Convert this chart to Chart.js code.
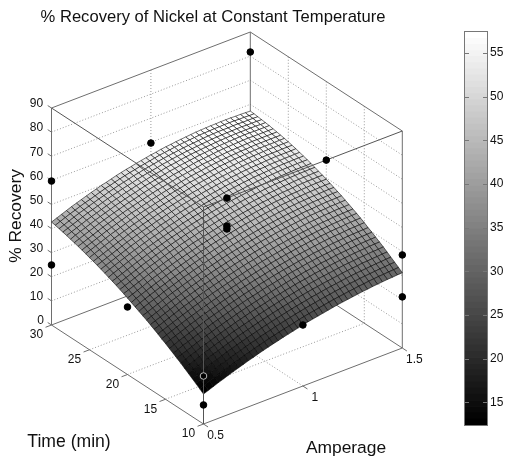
<!DOCTYPE html>
<html>
<head>
<meta charset="utf-8">
<script src="https://cdn.jsdelivr.net/npm/chart.js@4"></script>
<style>
  html, body { margin: 0; background: #fff; }
  #wrap { position: relative; width: 507px; height: 463px; overflow: hidden; }
  #surfaceChart { position: absolute; left: 0; top: 0; }
  #colorBar { position: absolute; left: 440px; top: 0; }
</style>
</head>
<body>
<div id="wrap">
  <canvas id="surfaceChart" width="507" height="463"></canvas>
  <canvas id="colorBar" width="67" height="463"></canvas>
</div>
<script>
const amperageTicks = [0.5, 1, 1.5];
const timeTicks = [10, 15, 20, 25, 30];
const recoveryTicks = [0, 10, 20, 30, 40, 50, 60, 70, 80, 90];
const colorTicks = [15, 20, 25, 30, 35, 40, 45, 50, 55];

// surface rows run from 10 to 30 min, columns from 0.5 to 1.5 A
const surfaceRows = [
  [12.4,13.2,14.0,14.8,15.5,16.3,17.0,17.7,18.4,19.1,19.7,20.4,21.0,21.6,22.2,22.7,23.3,23.8,24.3,24.8,25.3,25.8,26.2,26.6,27.0,27.4,27.8,28.2,28.5,28.8,29.1,29.4,29.7,29.9,30.2,30.4,30.6,30.8,30.9,31.1,31.2],
  [13.6,14.4,15.2,16.0,16.7,17.5,18.2,18.9,19.6,20.3,20.9,21.6,22.2,22.8,23.4,23.9,24.5,25.0,25.5,26.0,26.5,27.0,27.4,27.8,28.2,28.6,29.0,29.4,29.7,30.0,30.3,30.6,30.9,31.1,31.4,31.6,31.8,31.9,32.1,32.2,32.4],
  [14.7,15.5,16.3,17.1,17.9,18.6,19.3,20.0,20.7,21.4,22.1,22.7,23.3,24.0,24.5,25.1,25.7,26.2,26.7,27.2,27.7,28.1,28.6,29.0,29.4,29.8,30.2,30.5,30.9,31.2,31.5,31.8,32.0,32.3,32.5,32.7,32.9,33.1,33.2,33.4,33.5],
  [15.8,16.6,17.5,18.2,19.0,19.7,20.5,21.2,21.9,22.6,23.2,23.9,24.5,25.1,25.7,26.2,26.8,27.3,27.8,28.3,28.8,29.3,29.7,30.1,30.6,30.9,31.3,31.7,32.0,32.3,32.6,32.9,33.2,33.4,33.6,33.8,34.0,34.2,34.3,34.5,34.6],
  [16.9,17.7,18.5,19.3,20.1,20.9,21.6,22.3,23.0,23.7,24.4,25.0,25.6,26.2,26.8,27.4,27.9,28.5,29.0,29.5,30.0,30.4,30.9,31.3,31.7,32.1,32.4,32.8,33.1,33.4,33.7,34.0,34.3,34.5,34.7,35.0,35.1,35.3,35.4,35.6,35.7],
  [18.0,18.8,19.6,20.4,21.2,22.0,22.7,23.4,24.1,24.8,25.5,26.1,26.7,27.3,27.9,28.5,29.0,29.6,30.1,30.6,31.1,31.5,31.9,32.4,32.8,33.2,33.5,33.9,34.2,34.5,34.8,35.1,35.4,35.6,35.8,36.0,36.2,36.4,36.5,36.6,36.8],
  [19.1,19.9,20.7,21.5,22.3,23.0,23.7,24.5,25.2,25.9,26.5,27.2,27.8,28.4,29.0,29.6,30.1,30.6,31.2,31.7,32.1,32.6,33.0,33.5,33.9,34.2,34.6,35.0,35.3,35.6,35.9,36.2,36.4,36.7,36.9,37.1,37.3,37.4,37.6,37.7,37.8],
  [20.1,20.9,21.7,22.5,23.3,24.1,24.8,25.5,26.3,26.9,27.6,28.2,28.9,29.5,30.1,30.6,31.2,31.7,32.2,32.7,33.2,33.6,34.1,34.5,34.9,35.3,35.7,36.0,36.3,36.7,36.9,37.2,37.5,37.7,37.9,38.1,38.3,38.5,38.6,38.7,38.8],
  [21.1,21.9,22.8,23.6,24.3,25.1,25.8,26.6,27.3,28.0,28.6,29.3,29.9,30.5,31.1,31.7,32.2,32.7,33.3,33.8,34.2,34.7,35.1,35.6,36.0,36.3,36.7,37.1,37.4,37.7,38.0,38.2,38.5,38.7,38.9,39.2,39.4,39.5,39.6,39.7,39.8],
  [22.1,22.9,23.8,24.5,25.3,26.1,26.8,27.6,28.3,29.0,29.6,30.3,30.9,31.5,32.1,32.7,33.2,33.7,34.3,34.7,35.2,35.7,36.1,36.6,36.9,37.3,37.7,38.0,38.3,38.7,38.9,39.2,39.5,39.7,39.9,40.1,40.3,40.4,40.5,40.6,40.7],
  [23.1,23.9,24.7,25.5,26.3,27.1,27.8,28.6,29.3,30.0,30.6,31.3,31.9,32.5,33.1,33.7,34.2,34.7,35.3,35.7,36.2,36.7,37.1,37.5,37.9,38.3,38.7,39.0,39.3,39.6,39.9,40.2,40.5,40.7,40.9,41.0,41.2,41.4,41.5,41.6,41.7],
  [24.0,24.9,25.7,26.5,27.3,28.1,28.8,29.5,30.2,30.9,31.6,32.2,32.9,33.5,34.1,34.6,35.2,35.7,36.2,36.7,37.2,37.6,38.1,38.5,38.9,39.3,39.6,40.0,40.3,40.6,40.9,41.1,41.4,41.6,41.8,42.0,42.1,42.3,42.4,42.5,42.6],
  [25.0,25.8,26.6,27.4,28.2,29.0,29.7,30.5,31.2,31.9,32.5,33.2,33.8,34.4,35.0,35.6,36.1,36.6,37.2,37.6,38.1,38.6,39.0,39.4,39.8,40.2,40.5,40.9,41.2,41.5,41.8,42.0,42.3,42.5,42.7,42.9,43.0,43.2,43.3,43.4,43.5],
  [25.9,26.7,27.5,28.3,29.1,29.9,30.7,31.4,32.1,32.8,33.5,34.1,34.7,35.3,35.9,36.5,37.0,37.6,38.1,38.6,39.0,39.5,39.9,40.3,40.7,41.1,41.4,41.8,42.1,42.4,42.7,42.9,43.2,43.4,43.6,43.7,43.9,44.0,44.1,44.2,44.3],
  [26.8,27.6,28.4,29.2,30.0,30.8,31.6,32.3,33.0,33.7,34.4,35.0,35.6,36.2,36.8,37.4,37.9,38.5,39.0,39.4,39.9,40.4,40.8,41.2,41.6,42.0,42.3,42.6,42.9,43.2,43.5,43.8,44.0,44.2,44.4,44.6,44.7,44.9,45.0,45.0,45.1],
  [27.7,28.5,29.3,30.1,30.9,31.7,32.4,33.1,33.9,34.6,35.2,35.9,36.5,37.1,37.7,38.2,38.8,39.3,39.8,40.3,40.8,41.2,41.7,42.1,42.5,42.8,43.2,43.5,43.8,44.1,44.4,44.6,44.9,45.1,45.2,45.4,45.5,45.7,45.7,45.8,45.9],
  [28.5,29.3,30.1,30.9,31.7,32.5,33.3,34.0,34.7,35.4,36.1,36.7,37.3,37.9,38.5,39.1,39.7,40.2,40.7,41.2,41.6,42.1,42.5,42.9,43.3,43.7,44.0,44.3,44.6,44.9,45.2,45.4,45.7,45.9,46.0,46.2,46.3,46.5,46.5,46.6,46.7],
  [29.3,30.2,31.0,31.8,32.5,33.4,34.1,34.8,35.6,36.3,36.9,37.6,38.2,38.8,39.4,39.9,40.5,41.0,41.5,42.0,42.4,42.9,43.3,43.7,44.1,44.5,44.8,45.1,45.4,45.7,46.0,46.2,46.4,46.6,46.8,47.0,47.1,47.2,47.3,47.4,47.4],
  [30.1,31.0,31.8,32.6,33.4,34.2,34.9,35.7,36.4,37.1,37.7,38.4,39.0,39.6,40.2,40.7,41.3,41.8,42.3,42.8,43.2,43.7,44.1,44.5,44.9,45.2,45.6,45.9,46.2,46.5,46.7,47.0,47.2,47.4,47.5,47.7,47.8,47.9,48.0,48.1,48.1],
  [30.9,31.8,32.6,33.4,34.2,35.0,35.7,36.5,37.2,37.9,38.5,39.2,39.8,40.4,41.0,41.5,42.1,42.6,43.1,43.5,44.0,44.5,44.9,45.3,45.6,46.0,46.3,46.6,46.9,47.2,47.5,47.7,47.9,48.1,48.2,48.4,48.5,48.6,48.7,48.8,48.8],
  [31.7,32.5,33.3,34.1,35.0,35.8,36.5,37.2,37.9,38.6,39.3,39.9,40.5,41.1,41.7,42.3,42.8,43.3,43.8,44.3,44.8,45.2,45.6,46.0,46.4,46.7,47.1,47.4,47.7,48.0,48.2,48.4,48.6,48.8,48.9,49.1,49.2,49.3,49.4,49.4,49.5],
  [32.5,33.3,34.1,34.9,35.7,36.5,37.2,38.0,38.7,39.4,40.0,40.7,41.3,41.9,42.5,43.0,43.5,44.0,44.5,45.0,45.5,45.9,46.3,46.7,47.1,47.4,47.8,48.1,48.4,48.6,48.9,49.1,49.3,49.4,49.6,49.8,49.9,50.0,50.0,50.1,50.1],
  [33.2,34.0,34.8,35.6,36.4,37.2,38.0,38.7,39.4,40.1,40.8,41.4,42.0,42.6,43.2,43.7,44.3,44.8,45.2,45.7,46.2,46.6,47.0,47.4,47.7,48.1,48.4,48.8,49.0,49.3,49.5,49.7,49.9,50.1,50.2,50.4,50.5,50.6,50.6,50.7,50.7],
  [33.9,34.7,35.5,36.3,37.1,37.9,38.7,39.4,40.1,40.8,41.5,42.1,42.7,43.3,43.9,44.4,45.0,45.4,45.9,46.4,46.9,47.3,47.7,48.0,48.4,48.8,49.1,49.4,49.7,49.9,50.2,50.4,50.6,50.7,50.9,51.0,51.1,51.2,51.2,51.3,51.3],
  [34.6,35.4,36.2,37.0,37.8,38.6,39.3,40.1,40.8,41.5,42.1,42.8,43.4,44.0,44.5,45.1,45.6,46.1,46.6,47.1,47.5,47.9,48.3,48.7,49.1,49.4,49.7,50.0,50.3,50.6,50.8,51.0,51.2,51.3,51.5,51.6,51.7,51.8,51.8,51.8,51.9],
  [35.2,36.1,36.9,37.7,38.5,39.3,40.0,40.8,41.5,42.1,42.8,43.4,44.0,44.6,45.2,45.8,46.3,46.8,47.2,47.7,48.2,48.6,49.0,49.3,49.7,50.0,50.3,50.6,50.9,51.1,51.4,51.6,51.8,51.9,52.1,52.2,52.3,52.3,52.4,52.4,52.4],
  [35.9,36.7,37.5,38.3,39.1,39.9,40.7,41.4,42.1,42.8,43.4,44.0,44.7,45.3,45.8,46.4,46.9,47.4,47.9,48.3,48.8,49.2,49.6,49.9,50.3,50.6,50.9,51.2,51.5,51.7,52.0,52.1,52.3,52.4,52.6,52.7,52.8,52.8,52.9,52.9,52.9],
  [36.5,37.3,38.1,38.9,39.7,40.5,41.3,42.0,42.7,43.4,44.0,44.6,45.3,45.8,46.4,47.0,47.5,48.0,48.5,48.9,49.4,49.7,50.1,50.5,50.8,51.2,51.5,51.7,52.0,52.2,52.5,52.7,52.8,52.9,53.1,53.2,53.2,53.3,53.3,53.4,53.4],
  [37.1,37.9,38.7,39.5,40.3,41.1,41.9,42.6,43.3,44.0,44.6,45.2,45.9,46.4,47.0,47.5,48.1,48.6,49.0,49.5,49.9,50.3,50.7,51.0,51.4,51.7,52.0,52.3,52.5,52.8,53.0,53.2,53.3,53.4,53.6,53.7,53.8,53.8,53.8,53.8,53.9],
  [37.7,38.5,39.3,40.1,40.9,41.7,42.4,43.2,43.9,44.5,45.2,45.8,46.4,47.0,47.5,48.1,48.6,49.1,49.6,50.0,50.5,50.8,51.2,51.6,51.9,52.3,52.5,52.8,53.0,53.3,53.5,53.7,53.8,53.9,54.1,54.2,54.2,54.2,54.3,54.3,54.3],
  [38.2,39.1,39.9,40.7,41.5,42.3,43.0,43.7,44.4,45.1,45.7,46.3,47.0,47.5,48.1,48.6,49.1,49.6,50.1,50.5,51.0,51.4,51.7,52.1,52.4,52.7,53.0,53.3,53.5,53.7,54.0,54.1,54.3,54.4,54.5,54.6,54.7,54.7,54.7,54.7,54.7],
  [38.8,39.6,40.4,41.2,42.0,42.8,43.5,44.2,44.9,45.6,46.3,46.9,47.5,48.0,48.6,49.1,49.6,50.1,50.6,51.0,51.5,51.9,52.2,52.6,52.9,53.2,53.5,53.8,54.0,54.2,54.4,54.5,54.7,54.8,54.9,55.0,55.0,55.0,55.0,55.1,55.1],
  [39.3,40.1,40.9,41.7,42.5,43.3,44.0,44.7,45.4,46.1,46.8,47.3,47.9,48.5,49.1,49.6,50.1,50.6,51.0,51.4,51.9,52.3,52.7,53.0,53.3,53.7,53.9,54.2,54.4,54.6,54.8,54.9,55.1,55.1,55.3,55.4,55.4,55.4,55.4,55.4,55.4],
  [39.8,40.6,41.4,42.2,43.0,43.8,44.5,45.2,45.9,46.6,47.2,47.8,48.4,48.9,49.5,50.1,50.6,51.0,51.4,51.9,52.4,52.7,53.1,53.4,53.7,54.1,54.3,54.5,54.8,55.0,55.2,55.3,55.4,55.5,55.6,55.7,55.7,55.7,55.7,55.7,55.7],
  [40.3,41.1,41.9,42.7,43.5,44.3,45.0,45.7,46.4,47.0,47.7,48.3,48.8,49.4,50.0,50.5,51.0,51.5,51.9,52.3,52.8,53.1,53.5,53.8,54.2,54.5,54.7,54.9,55.2,55.4,55.6,55.7,55.8,55.9,56.0,56.1,56.0,56.0,56.0,56.0,56.0],
  [40.7,41.6,42.4,43.1,43.9,44.7,45.4,46.1,46.8,47.5,48.1,48.7,49.3,49.8,50.4,51.0,51.4,51.9,52.3,52.7,53.2,53.5,53.9,54.2,54.5,54.8,55.1,55.3,55.5,55.7,55.9,56.0,56.1,56.2,56.3,56.4,56.4,56.3,56.3,56.3,56.3],
  [41.2,42.0,42.8,43.6,44.4,45.1,45.8,46.5,47.2,47.9,48.5,49.1,49.7,50.2,50.8,51.3,51.8,52.3,52.7,53.1,53.6,53.9,54.2,54.6,54.9,55.2,55.4,55.6,55.8,56.0,56.2,56.3,56.4,56.5,56.6,56.6,56.6,56.6,56.6,56.5,56.5],
  [41.6,42.4,43.2,44.0,44.8,45.6,46.2,46.9,47.6,48.3,48.9,49.5,50.1,50.6,51.1,51.7,52.2,52.6,53.0,53.4,53.9,54.2,54.6,54.9,55.2,55.5,55.7,55.9,56.1,56.3,56.5,56.6,56.7,56.8,56.8,56.9,56.9,56.8,56.8,56.8,56.7],
  [42.0,42.8,43.6,44.4,45.2,45.9,46.6,47.3,48.0,48.6,49.3,49.9,50.5,51.0,51.5,52.1,52.5,53.0,53.4,53.8,54.2,54.6,54.9,55.2,55.5,55.8,56.0,56.2,56.4,56.6,56.8,56.9,57.0,57.0,57.0,57.1,57.1,57.0,57.0,57.0,56.9],
  [42.4,43.2,44.0,44.8,45.5,46.3,47.0,47.6,48.3,49.0,49.7,50.2,50.8,51.4,51.9,52.4,52.8,53.3,53.7,54.1,54.5,54.9,55.2,55.5,55.8,56.1,56.3,56.5,56.7,56.9,57.0,57.1,57.2,57.2,57.3,57.3,57.3,57.2,57.2,57.1,57.1],
  [42.7,43.5,44.3,45.1,45.9,46.6,47.3,48.0,48.7,49.3,50.0,50.5,51.1,51.7,52.2,52.7,53.1,53.6,54.0,54.4,54.8,55.1,55.5,55.8,56.0,56.3,56.5,56.7,56.9,57.1,57.2,57.3,57.4,57.4,57.5,57.5,57.5,57.4,57.4,57.3,57.2],
];

// measured runs
const pointAmperage = [1.5, 1.5, 1.5, 1.5, 0.5, 0.5, 1, 0.5, 1, 1, 1, 1, 0.5, 0.5];
const pointTime = [30, 20, 10, 10, 30, 30, 30, 20, 10, 20, 20, 20, 10, 10];
const pointRecovery = [81.7, 57.4, 38.6, 21.2, 59.7, 24.9, 59.7, 28.0, 25.3, 57.4, 45.8, 44.6, 7.9, 19.9];

const colorMin = 12.4;
const colorMax = 57.4;
const levels = 64;
const font = "'Liberation Sans', Arial, sans-serif";

function project(amp, time, rec) {
  const u = amp - 0.5;
  const v = (time - 10) / 20;
  return { x: 203.5 + 198.8 * u - 152 * v, y: 424 - 76 * u - 99 * v - 2.411 * rec };
}

function grayFor(z) {
  let k = Math.floor(((z - colorMin) / (colorMax - colorMin)) * levels);
  k = Math.max(0, Math.min(levels - 1, k));
  const g = Math.round((k / (levels - 1)) * 255);
  return "rgb(" + g + "," + g + "," + g + ")";
}

function lineSet(segments, color, width, dash, order) {
  const data = [];
  segments.forEach((s) => {
    data.push(project(s[0], s[1], s[2]), project(s[3], s[4], s[5]), { x: null, y: null });
  });
  return {
    type: "scatter",
    data: data,
    showLine: true,
    spanGaps: false,
    borderColor: color,
    borderWidth: width,
    borderDash: dash,
    pointRadius: 0,
    order: order,
  };
}

const ampLo = amperageTicks[0];
const ampHi = amperageTicks[amperageTicks.length - 1];
const timeLo = timeTicks[0];
const timeHi = timeTicks[timeTicks.length - 1];
const recHi = recoveryTicks[recoveryTicks.length - 1];

const gridSegments = [];
recoveryTicks.slice(1, -1).forEach((r) => {
  gridSegments.push([ampLo, timeHi, r, ampHi, timeHi, r]);
  gridSegments.push([ampHi, timeHi, r, ampHi, timeLo, r]);
});
timeTicks.slice(1, -1).forEach((t) => {
  gridSegments.push([ampLo, t, 0, ampHi, t, 0]);
  gridSegments.push([ampHi, t, 0, ampHi, t, recHi]);
});
amperageTicks.slice(1, -1).forEach((a) => {
  gridSegments.push([a, timeLo, 0, a, timeHi, 0]);
  gridSegments.push([a, timeHi, 0, a, timeHi, recHi]);
});

const backSegments = [
  [ampLo, timeHi, 0, ampHi, timeHi, 0],
  [ampHi, timeHi, 0, ampHi, timeLo, 0],
  [ampLo, timeHi, 0, ampLo, timeHi, recHi],
  [ampHi, timeHi, 0, ampHi, timeHi, recHi],
  [ampHi, timeLo, 0, ampHi, timeLo, recHi],
  [ampLo, timeHi, recHi, ampHi, timeHi, recHi],
  [ampHi, timeHi, recHi, ampHi, timeLo, recHi],
  [ampLo, timeLo, 0, ampHi, timeLo, 0],
  [ampLo, timeLo, 0, ampLo, timeHi, 0],
];
recoveryTicks.forEach((r) => backSegments.push([ampLo, timeHi, r, ampLo, timeHi + 0.5, r]));
timeTicks.forEach((t) => backSegments.push([ampLo, t, 0, ampLo - 0.03, t, 0]));
amperageTicks.forEach((a) => backSegments.push([a, timeLo, 0, a, timeLo - 0.6, 0]));

const frontSegments = [
  [ampLo, timeLo, 0, ampLo, timeLo, recHi],
  [ampLo, timeHi, recHi, ampLo, timeLo, recHi],
  [ampLo, timeLo, recHi, ampHi, timeLo, recHi],
];

const nodes = [];
surfaceRows.forEach((row, j) => {
  row.forEach((z, i) => {
    const amp = ampLo + ((ampHi - ampLo) * i) / (row.length - 1);
    const time = timeLo + ((timeHi - timeLo) * j) / (surfaceRows.length - 1);
    nodes.push(project(amp, time, z));
  });
});

const surfacePlugin = {
  id: "surfacePlugin",
  afterDatasetDraw(chart, args) {
    if (chart.data.datasets[args.index].label !== "surface") return;
    const ctx = chart.ctx;
    const pts = args.meta.data;
    const nx = surfaceRows[0].length;
    const ny = surfaceRows.length;
    ctx.save();
    ctx.lineWidth = 0.8;
    ctx.strokeStyle = "rgba(0,0,0,0.7)";
    for (let j = ny - 2; j >= 0; j--) {
      for (let i = nx - 2; i >= 0; i--) {
        const p = [pts[j * nx + i], pts[j * nx + i + 1], pts[(j + 1) * nx + i + 1], pts[(j + 1) * nx + i]];
        ctx.beginPath();
        ctx.moveTo(p[0].x, p[0].y);
        ctx.lineTo(p[1].x, p[1].y);
        ctx.lineTo(p[2].x, p[2].y);
        ctx.lineTo(p[3].x, p[3].y);
        ctx.closePath();
        ctx.fillStyle = grayFor(surfaceRows[j][i]);
        ctx.fill();
        ctx.stroke();
      }
    }
    ctx.restore();
  },
};

const textPlugin = {
  id: "textPlugin",
  afterDraw(chart) {
    const ctx = chart.ctx;
    const { x, y } = chart.scales;
    const put = (text, px, py, size, rot) => {
      ctx.save();
      ctx.translate(px, py);
      if (rot) ctx.rotate(rot);
      ctx.font = size + "px " + font;
      ctx.fillStyle = "#111";
      ctx.textAlign = "center";
      ctx.textBaseline = "middle";
      ctx.fillText(text, 0, 0);
      ctx.restore();
    };
    recoveryTicks.forEach((r) => {
      const p = project(ampLo, timeHi, r);
      put(String(r), x.getPixelForValue(p.x) - (r === 0 ? 11 : 15), y.getPixelForValue(p.y) - 4, 12);
    });
    timeTicks.forEach((t) => {
      const p = project(ampLo, t, 0);
      put(String(t), x.getPixelForValue(p.x) - 15, y.getPixelForValue(p.y) + 10, 12);
    });
    amperageTicks.forEach((a) => {
      const p = project(a, timeLo, 0);
      put(String(a), x.getPixelForValue(p.x) + 12, y.getPixelForValue(p.y) + 12, 12);
    });
    put("% Recovery of Nickel at Constant Temperature", 213, 17, 16.6);
    put("% Recovery", 16, 216, 17.4, -Math.PI / 2);
    put("Time (min)", 69, 442, 17.6);
    put("Amperage", 346, 448, 17.4);
  },
};

new Chart(document.getElementById("surfaceChart"), {
  type: "scatter",
  data: {
    datasets: [
      lineSet(gridSegments, "#999999", 1, [1, 2], 5),
      lineSet(backSegments, "#6e6e6e", 1, [], 4),
      { label: "surface", data: nodes, pointRadius: 0, order: 3 },
      lineSet(frontSegments, "#555555", 1, [], 2),
      {
        data: pointAmperage.map((a, k) => project(a, pointTime[k], pointRecovery[k])),
        pointRadius: 3.3,
        pointBackgroundColor: "#000",
        pointBorderColor: pointAmperage.map((a, k) => (pointRecovery[k] === 19.9 ? "#bbb" : "#000")),
        pointBorderWidth: 1,
        order: 1,
      },
    ],
  },
  options: {
    responsive: false,
    animation: false,
    layout: { padding: 0, autoPadding: false },
    scales: {
      x: { type: "linear", min: 0, max: 507, display: false },
      y: { type: "linear", min: 0, max: 463, reverse: true, display: false },
    },
    plugins: { legend: { display: false }, tooltip: { enabled: false } },
  },
  plugins: [surfacePlugin, textPlugin],
});

const barSets = [];
for (let k = 0; k < levels; k++) {
  const lo = colorMin + ((colorMax - colorMin) * k) / levels;
  const hi = colorMin + ((colorMax - colorMin) * (k + 1)) / levels;
  barSets.push({
    data: [[lo, hi]],
    backgroundColor: grayFor((lo + hi) / 2),
    borderWidth: 0,
    barPercentage: 1,
    categoryPercentage: 1,
    grouped: false,
  });
}

const barFrame = {
  id: "barFrame",
  afterDraw(chart) {
    const ctx = chart.ctx;
    const a = chart.chartArea;
    const s = chart.scales.y;
    ctx.save();
    ctx.strokeStyle = "#777";
    ctx.lineWidth = 1;
    ctx.strokeRect(a.left - 0.5, a.top - 0.5, a.right - a.left + 1, a.bottom - a.top + 1);
    colorTicks.forEach((v) => {
      const py = Math.round(s.getPixelForValue(v)) + 0.5;
      ctx.beginPath();
      ctx.moveTo(a.left, py);
      ctx.lineTo(a.left + 4, py);
      ctx.moveTo(a.right, py);
      ctx.lineTo(a.right - 4, py);
      ctx.stroke();
    });
    ctx.restore();
  },
};

new Chart(document.getElementById("colorBar"), {
  type: "bar",
  data: { labels: [""], datasets: barSets },
  options: {
    responsive: false,
    animation: false,
    layout: { padding: { left: 25, right: 0, top: 32, bottom: 38 }, autoPadding: false },
    scales: {
      x: { display: false },
      y: {
        position: "right",
        min: colorMin,
        max: colorMax,
        afterBuildTicks(scale) {
          scale.ticks = colorTicks.map((v) => ({ value: v }));
        },
        afterFit(scale) {
          scale.width = 20;
        },
        grid: { display: false, drawTicks: false, tickLength: 0 },
        border: { display: false },
        ticks: { color: "#111", padding: 3, font: { family: font, size: 12 } },
      },
    },
    plugins: { legend: { display: false }, tooltip: { enabled: false } },
  },
  plugins: [barFrame],
});
</script>
</body>
</html>
